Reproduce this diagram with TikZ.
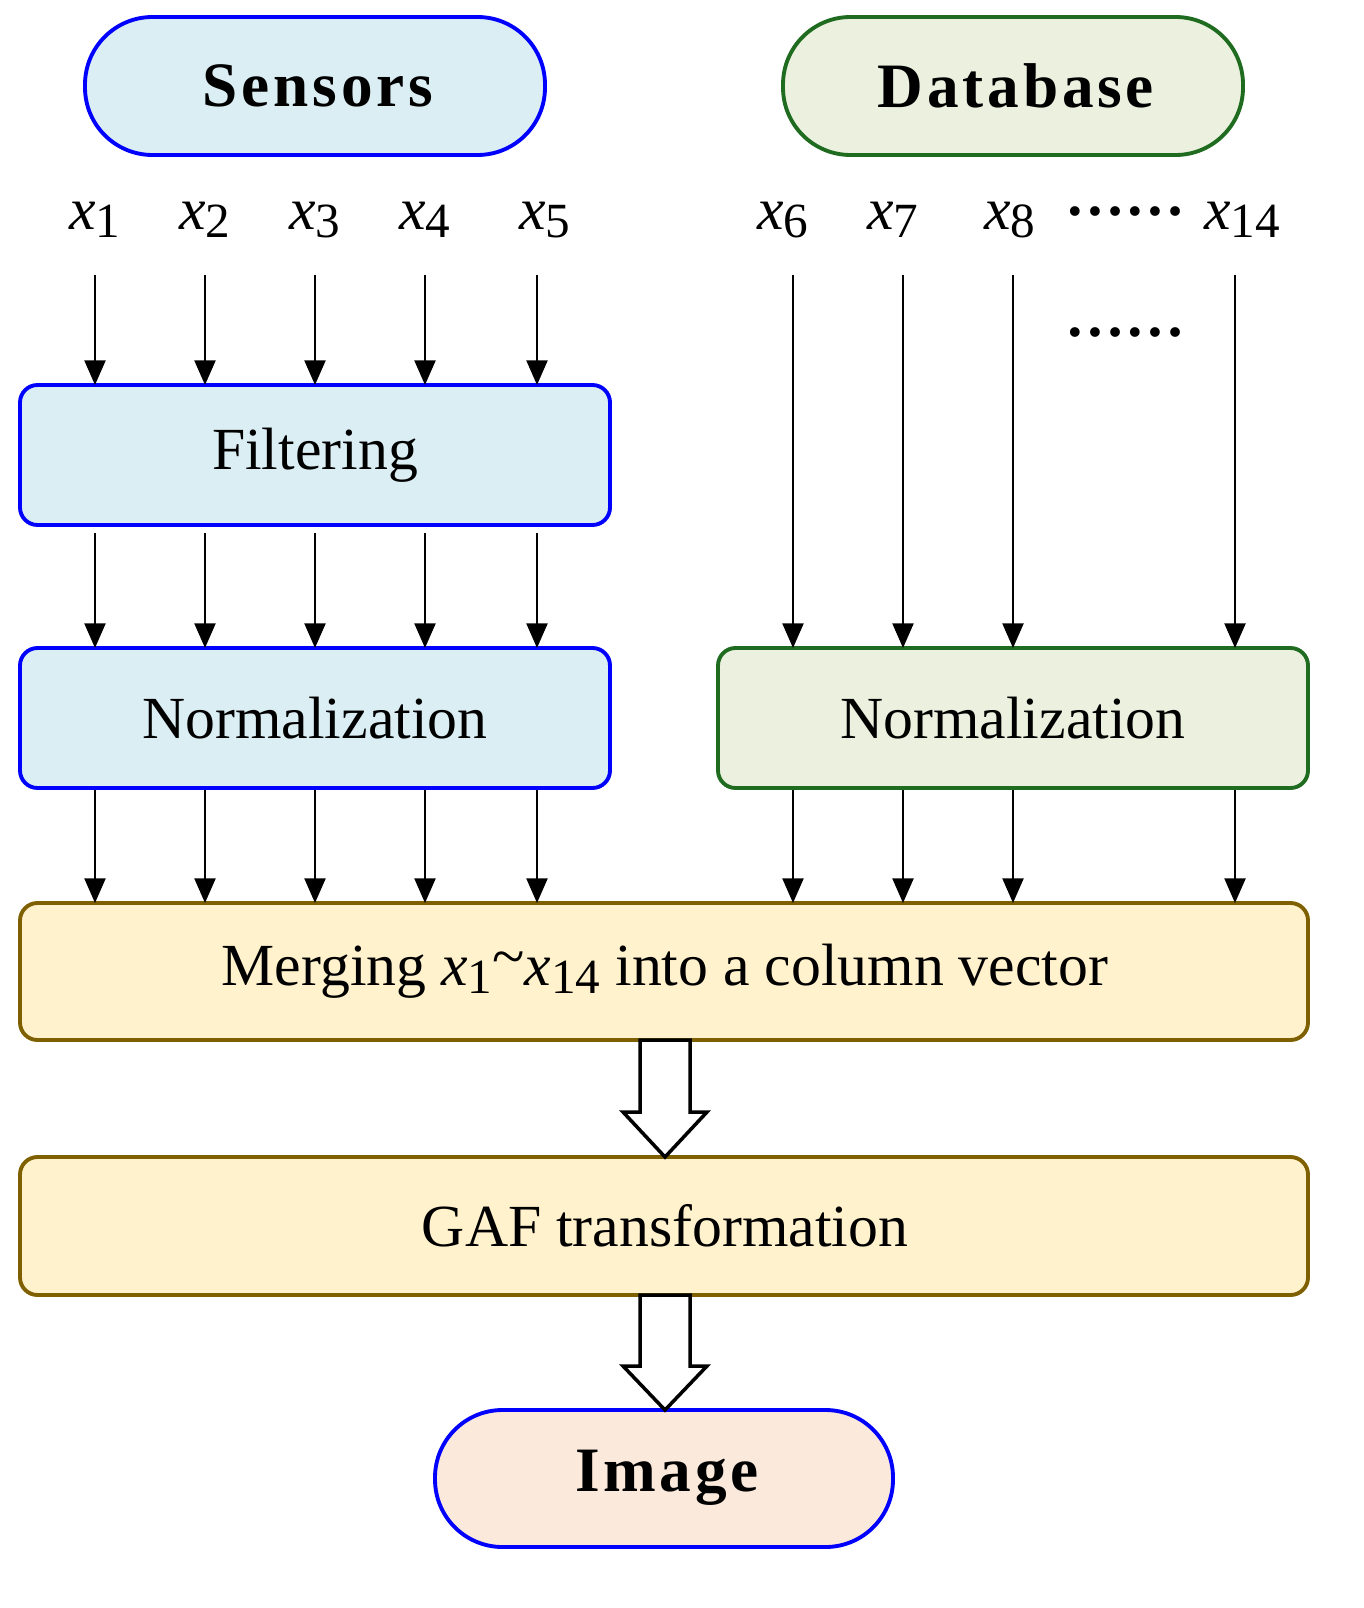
\documentclass[tikz,border=0pt]{standalone}
\usepackage{fontspec}
\setmainfont{Liberation Serif}
\usetikzlibrary{arrows.meta}
\definecolor{bluefill}{HTML}{DAEEF3}
\definecolor{greenfill}{HTML}{EBF1DE}
\definecolor{greenline}{HTML}{1F6B1F}
\definecolor{brownline}{HTML}{7F6000}
\definecolor{yellowfill}{HTML}{FFF2CC}
\definecolor{peachfill}{HTML}{FBE9DB}
\newcommand{\xv}[1]{\textit{x}\raisebox{-0.3ex}{\fontsize{28}{30}\selectfont #1}}
\tikzset{
  pill/.style={draw, line width=2.2pt, rounded corners=1.35cm},
  box/.style={draw, line width=2.2pt, rounded corners=0.35cm},
  lbl/.style={font=\fontsize{34}{40}\selectfont},
  blbl/.style={font=\fontsize{36}{40}\selectfont\bfseries\addfontfeatures{LetterSpace=6}},
  arr/.style={-{Triangle[length=14pt,width=12pt]}, line width=1pt},
  hollow/.style={draw, line width=2pt, fill=white}
}
\begin{document}
\begin{tikzpicture}[x=0.02cm,y=-0.02cm]
\useasboundingbox (0,0) rectangle (1363,1608);
% top pills
\draw[pill, blue, fill=bluefill] (85,17) rectangle (545,155);
\node[blbl] (sensors) at (318,86) {Sensors};
\draw[pill, greenline, fill=greenfill] (783,17) rectangle (1243,155);
\node[blbl] (database) at (1016,86) {Database};
% boxes
\draw[box, blue, fill=bluefill] (20,385) rectangle (610,525);
\node[lbl] (filter) at (315,455) {Filtering};
\draw[box, blue, fill=bluefill] (20,648) rectangle (610,788);
\node[lbl] (normL) at (315,718) {Normalization};
\draw[box, greenline, fill=greenfill] (718,648) rectangle (1308,788);
\node[lbl] (normR) at (1013,718) {Normalization};
\draw[box, brownline, fill=yellowfill] (20,903) rectangle (1308,1040);
\node[lbl] (merge) at (665,971) {Merging \xv{1}\raisebox{0.15em}{\textasciitilde}\xv{14} into a column vector};
\draw[box, brownline, fill=yellowfill] (20,1157) rectangle (1308,1295);
\node[lbl] (gaf) at (665,1226) {GAF transformation};
\draw[pill, blue, fill=peachfill] (435,1410) rectangle (893,1547);
\node[blbl] (image) at (667,1478) {Image};
% variable labels and arrows
\foreach \i/\x in {1/95,2/205,3/315,4/425,5/545}{
  \node[lbl] (x\i) at (\x,220) {\xv{\i}};
}
\foreach \x in {95,205,315,425,537}{
  \coordinate (a) at (\x,275); \coordinate (b) at (\x,385);
  \coordinate (c) at (\x,533); \coordinate (d) at (\x,648);
  \coordinate (e) at (\x,790); \coordinate (f) at (\x,903);
  \draw[arr] (a) -- (b);
  \draw[arr] (c) -- (d);
  \draw[arr] (e) -- (f);
}
\foreach \i/\x in {6/783,7/893,8/1010,14/1242}{
  \node[lbl] (x\i) at (\x,220) {\xv{\i}};
}
\foreach \x in {793,903,1013,1235}{
  \coordinate (a) at (\x,275); \coordinate (d) at (\x,648);
  \coordinate (e) at (\x,790); \coordinate (f) at (\x,903);
  \draw[arr] (a) -- (d);
  \draw[arr] (e) -- (f);
}
\node[lbl] (dotsA) at (1125,212) {\textbf{\dots\dots}};
\node[lbl] (dotsB) at (1125,333) {\textbf{\dots\dots}};
% hollow arrows
\draw[hollow] (640,1040) -- (690,1040) -- (690,1112) -- (707,1112) -- (665,1157)
  -- (623,1112) -- (640,1112) -- cycle;
\draw[hollow] (640,1295) -- (690,1295) -- (690,1366) -- (707,1366) -- (665,1410)
  -- (623,1366) -- (640,1366) -- cycle;
\end{tikzpicture}
\end{document}
